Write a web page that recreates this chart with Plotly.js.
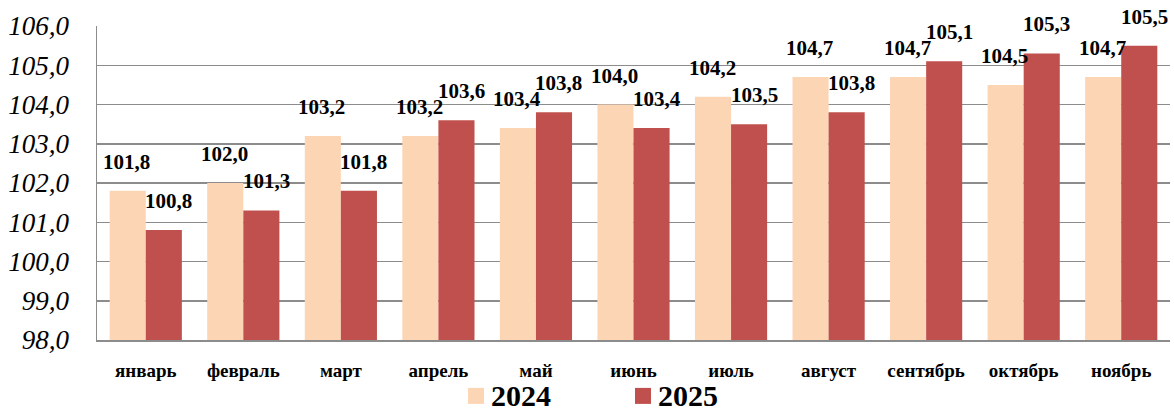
<!DOCTYPE html>
<html>
<head>
<meta charset="utf-8">
<script src="https://cdn.plot.ly/plotly-3.0.1.min.js"></script>
<style>html,body{margin:0;padding:0;background:#fff}#chart{width:1174px;height:412px}</style>
</head>
<body>
<div id="chart"></div>
<script>
const categories = ["январь","февраль","март","апрель","май","июнь","июль","август","сентябрь","октябрь","ноябрь"];
const series2024 = [101.8,102.0,103.2,103.2,103.4,104.0,104.2,104.7,104.7,104.5,104.7];
const series2025 = [100.8,101.3,101.8,103.6,103.8,103.4,103.5,103.8,105.1,105.3,105.5];
const seriesNames = ["2024","2025"];
const yTicks = [98,99,100,101,102,103,104,105,106];

const FAM = "Liberation Serif";
const colors = ["#FCD5B5","#C0504D"];
const fmt = v => v.toFixed(1).replace('.', ',');

const traces = [series2024, series2025].map((vals, i) => ({
  type: 'bar',
  name: seriesNames[i],
  x: categories,
  y: vals,
  marker: {color: colors[i]},
  hoverinfo: 'skip'
}));

const annotations = [];
[series2024, series2025].forEach((vals, i) => {
  vals.forEach((v, j) => {
    annotations.push({
      x: categories[j], y: v, xref: 'x', yref: 'y',
      text: '<b>' + fmt(v) + '</b>', showarrow: false,
      xshift: i === 0 ? -19 : 23, yshift: 15,
      yanchor: 'bottom', xanchor: 'center',
      font: {family: FAM, size: 21, color: '#000'}
    });
  });
});

// legend drawn in paper space (squares + text)
const legendX = [0.3458, 0.5014];
const legendY = -0.178;
const sq = 0.0149, sqh = 0.0255;
const shapes = [];
seriesNames.forEach((name, i) => {
  shapes.push({type: 'rect', xref: 'paper', yref: 'paper',
    x0: legendX[i], x1: legendX[i] + sq, y0: legendY - sqh, y1: legendY + sqh,
    fillcolor: colors[i], line: {width: 0}});
  annotations.push({xref: 'paper', yref: 'paper', x: legendX[i] + sq + 0.005, y: legendY,
    xanchor: 'left', yanchor: 'middle', showarrow: false, text: '<b>' + name + '</b>',
    font: {family: FAM, size: 30, color: '#000'}});
});

const layout = {
  width: 1174, height: 412,
  margin: {l: 97, r: 4, t: 26, b: 72},
  barmode: 'group',
  bargap: 0.26,
  showlegend: false,
  xaxis: {
    tickvals: categories,
    ticktext: categories.map(c => '<b>' + c + '</b>'),
    tickfont: {family: FAM, size: 19, color: '#000'},
    showline: true, linecolor: '#8c8c8c', linewidth: 1.5,
    ticks: '', ticklabelstandoff: 13
  },
  yaxis: {
    range: [98, 106],
    tickvals: yTicks,
    ticktext: yTicks.map(v => '<i>' + fmt(v) + '</i>'),
    tickfont: {family: FAM, size: 27, color: '#000'},
    showgrid: true, gridcolor: '#8c8c8c', gridwidth: 1.5,
    showline: true, linecolor: '#8c8c8c', linewidth: 1.5,
    zeroline: false, ticks: '', ticklabelstandoff: 21
  },
  shapes: shapes,
  annotations: annotations
};

Plotly.newPlot('chart', traces, layout, {staticPlot: true});
</script>
</body>
</html>
